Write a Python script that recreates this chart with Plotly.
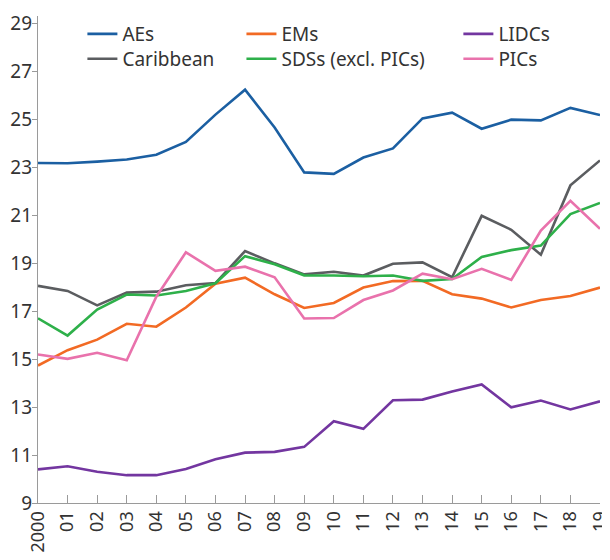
import plotly.graph_objects as go

YEARS = list(range(2000, 2020))
YEAR_LABELS = ["2000"] + [f"{y % 100:02d}" for y in YEARS[1:]]

AES = [23.17, 23.16, 23.23, 23.32, 23.52, 24.05, 25.19, 26.23, 24.65, 22.78,
       22.72, 23.40, 23.78, 25.03, 25.27, 24.60, 24.98, 24.95, 25.47, 25.17]
EMS = [14.73, 15.37, 15.81, 16.47, 16.35, 17.15, 18.14, 18.39, 17.70, 17.13,
       17.34, 17.98, 18.25, 18.26, 17.70, 17.52, 17.15, 17.46, 17.63, 17.98]
LIDCS = [10.40, 10.53, 10.30, 10.16, 10.16, 10.42, 10.82, 11.10, 11.13, 11.34,
         12.41, 12.09, 13.28, 13.31, 13.65, 13.94, 12.99, 13.27, 12.90, 13.24]
CARIBBEAN = [18.05, 17.84, 17.24, 17.77, 17.81, 18.08, 18.17, 19.50, 18.99, 18.53,
             18.64, 18.48, 18.97, 19.03, 18.41, 20.97, 20.39, 19.35, 22.24, 23.28]
SDSS = [16.70, 15.98, 17.06, 17.69, 17.65, 17.84, 18.16, 19.29, 18.95, 18.49,
        18.48, 18.45, 18.48, 18.26, 18.34, 19.26, 19.54, 19.73, 21.04, 21.51]
PICS = [15.19, 15.01, 15.26, 14.95, 17.60, 19.45, 18.68, 18.85, 18.41, 16.69,
        16.71, 17.46, 17.86, 18.56, 18.33, 18.76, 18.30, 20.36, 21.60, 20.43]

# name, values, colour, legend column, legend row
SERIES = [
    ("AEs", AES, "#1B5FA2", 0, 0),
    ("EMs", EMS, "#F26A24", 1, 0),
    ("LIDCs", LIDCS, "#7336A0", 2, 0),
    ("Caribbean", CARIBBEAN, "#5B5D60", 0, 1),
    ("SDSs (excl. PICs)", SDSS, "#2EB04A", 1, 1),
    ("PICs", PICS, "#E972AC", 2, 1),
]
LEGEND_X = [0.079, 0.362, 0.748]
LEGEND_Y = [0.963, 0.912]

FONT = "Noto Sans, sans-serif"
TEXT = "#333333"
AXIS = "#9A9A9A"

fig = go.Figure()
legends = {}
for i, (name, values, color, col, row) in enumerate(SERIES):
    key = "legend" if i == 0 else f"legend{i + 1}"
    fig.add_trace(go.Scatter(
        x=YEARS, y=values, name=name, mode="lines", legend=key,
        line={"color": color, "width": 2.6},
    ))
    legends[key] = {
        "x": LEGEND_X[col], "xanchor": "left", "y": LEGEND_Y[row], "yanchor": "middle",
        "bgcolor": "rgba(0,0,0,0)", "font": {"size": 19, "color": TEXT, "family": FONT},
        "itemwidth": 30,
    }

# page body has an 8px margin, so the figure is a bit smaller than the window
fig.update_layout(
    width=602, height=552,
    margin={"l": 30, "r": 10, "t": 8, "b": 57, "autoexpand": False},
    paper_bgcolor="white", plot_bgcolor="white",
    font={"family": FONT, "color": TEXT, "size": 18},
    showlegend=True,
    **legends,
    xaxis={
        "range": [2000, 2019], "tickmode": "array", "tickvals": YEARS, "ticktext": YEAR_LABELS,
        "tickangle": -90, "ticks": "inside", "ticklen": 8, "tickcolor": AXIS,
        "automargin": False, "ticklabeloverflow": "allow",
        "showline": True, "linecolor": AXIS, "linewidth": 1.2, "showgrid": False, "zeroline": False,
        "tickfont": {"size": 18, "color": TEXT},
    },
    yaxis={
        "range": [9, 29.3], "tickvals": list(range(9, 30, 2)), "automargin": False,
        "ticks": "outside", "ticklen": 5, "tickcolor": AXIS, "ticklabelstandoff": -4,
        "showline": True, "linecolor": AXIS, "linewidth": 1.2, "showgrid": False, "zeroline": False,
        "tickfont": {"size": 19, "color": TEXT},
    },
    yaxis2={
        "overlaying": "y", "side": "right", "range": [9, 29.3], "tickvals": list(range(9, 30, 2)),
        "ticks": "inside", "ticklen": 6, "tickcolor": AXIS, "showticklabels": False,
        "automargin": False,
        "showline": False, "showgrid": False, "zeroline": False,
    },
)

fig.write_html("out.html")
